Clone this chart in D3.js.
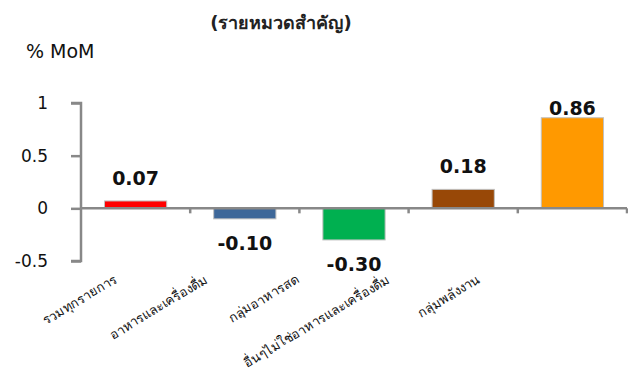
<!DOCTYPE html>
<html lang="th">
<head>
  <meta charset="UTF-8">
  <script src="https://d3js.org/d3.v7.min.js"></script>
  <title>MoM by category</title>
  <style>
    body { margin: 0; background: #fff; }
    text { font-family: "DejaVu Sans", "Noto Sans", sans-serif; }
  </style>
</head>
<body>
  <div id="wrapper"></div>
  <script>
    const categories = ["รวมทุกรายการ", "อาหารและเครื่องดื่ม", "กลุ่มอาหารสด", "อื่นๆไม่ใช่อาหารและเครื่องดื่ม", "กลุ่มพลังงาน"]
    const values = [0.07, -0.10, -0.30, 0.18, 0.86]
    const colors = ["#ff0000", "#3d6799", "#00b050", "#984807", "#ff9900"]
    const yTicks = [-0.5, 0, 0.5, 1]

    const width = 628
    const height = 379

    const svg = d3.select("#wrapper")
        .append("svg")
        .attr("width", width)
        .attr("height", height)

    const yScale = d3.scaleLinear()
        .domain([-0.5, 1])
        .range([261, 103])

    const xScale = d3.scaleBand()
        .domain(categories)
        .range([81, 627])
        .paddingInner(0.43)
        .paddingOuter(0.215)

    // labels in the source sit closer together than the bars
    const labelScale = d3.scalePoint()
        .domain(categories)
        .range([118, 481])

    // title
    svg.append("text")
        .attr("x", 281)
        .attr("y", 29)
        .attr("text-anchor", "middle")
        .style("font-size", "18px")
        .style("font-weight", "bold")
        .attr("fill", "#222")
        .text("(รายหมวดสำคัญ)")

    svg.append("text")
        .attr("x", 26)
        .attr("y", 58)
        .style("font-size", "19px")
        .attr("fill", "#111")
        .text("% MoM")

    // y axis
    const yAxis = svg.append("g")
        .attr("transform", "translate(81,0)")
        .call(d3.axisLeft(yScale).tickValues(yTicks).tickSize(10).tickPadding(23)
          .tickFormat(d => String(d)))
    yAxis.select(".domain")
        .attr("d", `M-10,${yScale(1)}H0V${yScale(-0.5)}H-10`)
        .attr("stroke", "#888")
        .attr("stroke-width", 2.5)
    yAxis.selectAll(".tick line").attr("stroke", "#888").attr("stroke-width", 2.5)
    yAxis.selectAll(".tick text")
        .style("font-size", "17px")
        .attr("fill", "#111")
        .attr("font-family", "DejaVu Sans")

    // bars
    svg.append("g")
        .selectAll("rect")
        .data(values)
        .join("rect")
        .attr("x", (d, i) => xScale(categories[i]))
        .attr("width", xScale.bandwidth())
        .attr("y", d => yScale(Math.max(0, d)))
        .attr("height", d => Math.abs(yScale(d) - yScale(0)))
        .attr("fill", (d, i) => colors[i])
        .attr("stroke", "#c0c0c0")
        .attr("stroke-width", 1)

    // x axis line with ticks at category boundaries
    const step = xScale.step()
    const xAxis = svg.append("g")
    xAxis.append("line")
        .attr("x1", 81).attr("x2", 627)
        .attr("y1", yScale(0)).attr("y2", yScale(0))
        .attr("stroke", "#888").attr("stroke-width", 2.5)
    xAxis.selectAll(".xt")
        .data(categories)
        .join("line")
        .attr("class", "xt")
        .attr("x1", d => xScale(d) + xScale.bandwidth() / 2 + step / 2)
        .attr("x2", d => xScale(d) + xScale.bandwidth() / 2 + step / 2)
        .attr("y1", yScale(0))
        .attr("y2", yScale(0) + 5)
        .attr("stroke", "#888").attr("stroke-width", 2.5)

    // value labels
    svg.append("g")
        .selectAll("text")
        .data(values)
        .join("text")
        .attr("x", (d, i) => xScale(categories[i]) + xScale.bandwidth() / 2)
        .attr("y", d => d >= 0 ? Math.max(115, yScale(d) - 16) : yScale(d) + 31)
        .attr("text-anchor", "middle")
        .style("font-size", "19px")
        .style("font-weight", "bold")
        .attr("fill", "#111")
        .text(d => d.toFixed(2))

    // category labels
    svg.append("g")
        .selectAll("text")
        .data(categories)
        .join("text")
        .attr("transform", d => `translate(${labelScale(d)},282) rotate(-31)`)
        .attr("text-anchor", "end")
        .style("font-size", "13px")
        .attr("fill", "#111")
        .text(d => d)
  </script>
</body>
</html>
